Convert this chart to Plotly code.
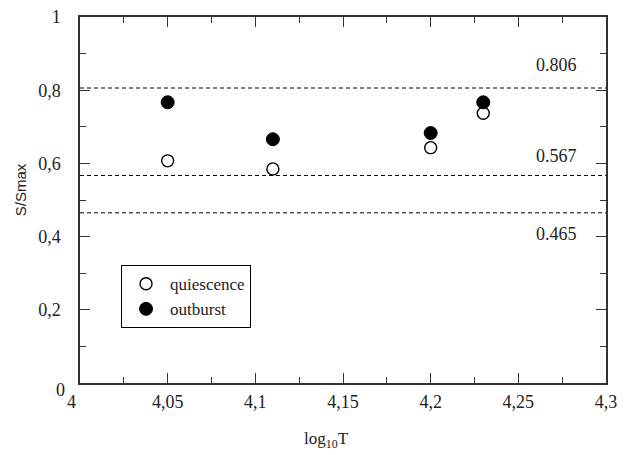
import plotly.graph_objects as go

log_t = [4.05, 4.11, 4.20, 4.23]
quiescence = [0.607, 0.585, 0.643, 0.737]
outburst = [0.767, 0.666, 0.683, 0.767]
ref_levels = [0.806, 0.567, 0.465]
ref_labels = ["0.806", "0.567", "0.465"]
ref_label_y = [0.869, 0.620, 0.407]
x_ticks = [4.05, 4.1, 4.15, 4.2, 4.25, 4.3]
x_tick_text = ["4,05", "4,1", "4,15", "4,2", "4,25", "4,3"]
y_ticks = [0.2, 0.4, 0.6, 0.8, 1]
y_tick_text = ["0,2", "0,4", "0,6", "0,8", "1"]
origin_labels = ["4", "0"]

serif = "Liberation Serif"
axis_col = "#333333"
txt_col = "#222222"

fig = go.Figure()
fig.add_trace(go.Scatter(x=log_t, y=quiescence, mode="markers", name="quiescence",
                         marker=dict(symbol="circle", size=12, color="white",
                                     line=dict(color="black", width=1.4))))
fig.add_trace(go.Scatter(x=log_t, y=outburst, mode="markers", name="outburst",
                         marker=dict(symbol="circle", size=13, color="black",
                                     line=dict(color="black", width=1))))

for lvl, lab, ly in zip(ref_levels, ref_labels, ref_label_y):
    fig.add_hline(y=lvl, line=dict(color="black", width=1, dash="4px,3px"))
    fig.add_annotation(x=4.2718, y=ly, text=lab, showarrow=False, xref="x", yref="y",
                       xanchor="center", yanchor="middle",
                       font=dict(family=serif, size=18, color=txt_col))

# origin labels (offset as in the original)
fig.add_annotation(x=-0.016, y=-0.052, xref="paper", yref="paper", text=origin_labels[0],
                   xanchor="center", yanchor="middle",
                   showarrow=False, font=dict(family=serif, size=18, color=txt_col))
fig.add_annotation(x=-0.038, y=-0.020, xref="paper", yref="paper", text=origin_labels[1],
                   xanchor="center", yanchor="middle",
                   showarrow=False, font=dict(family=serif, size=18, color=txt_col))

fig.add_annotation(x=-0.114, y=0.527, xref="paper", yref="paper", text="S/Smax",
                   textangle=-90, showarrow=False, xanchor="center", yanchor="middle",
                   font=dict(family="Liberation Sans", size=15, color=txt_col))
fig.add_annotation(x=0.468, y=-0.156, xref="paper", yref="paper", yanchor="middle",
                   xanchor="center", text="log<sub>10</sub>T", showarrow=False,
                   font=dict(family=serif, size=17, color=txt_col))

fig.update_xaxes(range=[4, 4.3], tickvals=x_ticks, ticktext=x_tick_text, automargin=False,
                 ticks="inside", ticklen=10, tickcolor=axis_col, mirror="allticks",
                 showline=True, linecolor=axis_col, linewidth=1.5, showgrid=False,
                 zeroline=False, ticklabelstandoff=2,
                 minor=dict(ticks="inside", ticklen=6, dtick=0.025,
                            tickcolor=axis_col, showgrid=False),
                 tickfont=dict(family=serif, size=18, color=txt_col))
fig.update_yaxes(range=[0, 1], tickvals=y_ticks, ticktext=y_tick_text, automargin=False,
                 ticks="inside", ticklen=10, tickcolor=axis_col, mirror="allticks",
                 showline=True, linecolor=axis_col, linewidth=1.5, showgrid=False,
                 zeroline=False, ticklabelstandoff=14,
                 minor=dict(ticks="inside", ticklen=6, dtick=0.1,
                            tickcolor=axis_col, showgrid=False),
                 tickfont=dict(family=serif, size=18, color=txt_col))

fig.update_layout(
    width=630, height=455,
    margin=dict(l=80, r=24, t=17, b=72, autoexpand=False),
    paper_bgcolor="white", plot_bgcolor="white",
    showlegend=True,
    legend=dict(x=0.078, y=0.322, xanchor="left", yanchor="top",
                bordercolor="black", borderwidth=1, bgcolor="white",
                font=dict(family=serif, size=17, color=txt_col),
                tracegroupgap=0, itemwidth=38),
)

fig.write_html("out.html", config={"displayModeBar": False},
               post_script="document.body.style.margin='0';")
